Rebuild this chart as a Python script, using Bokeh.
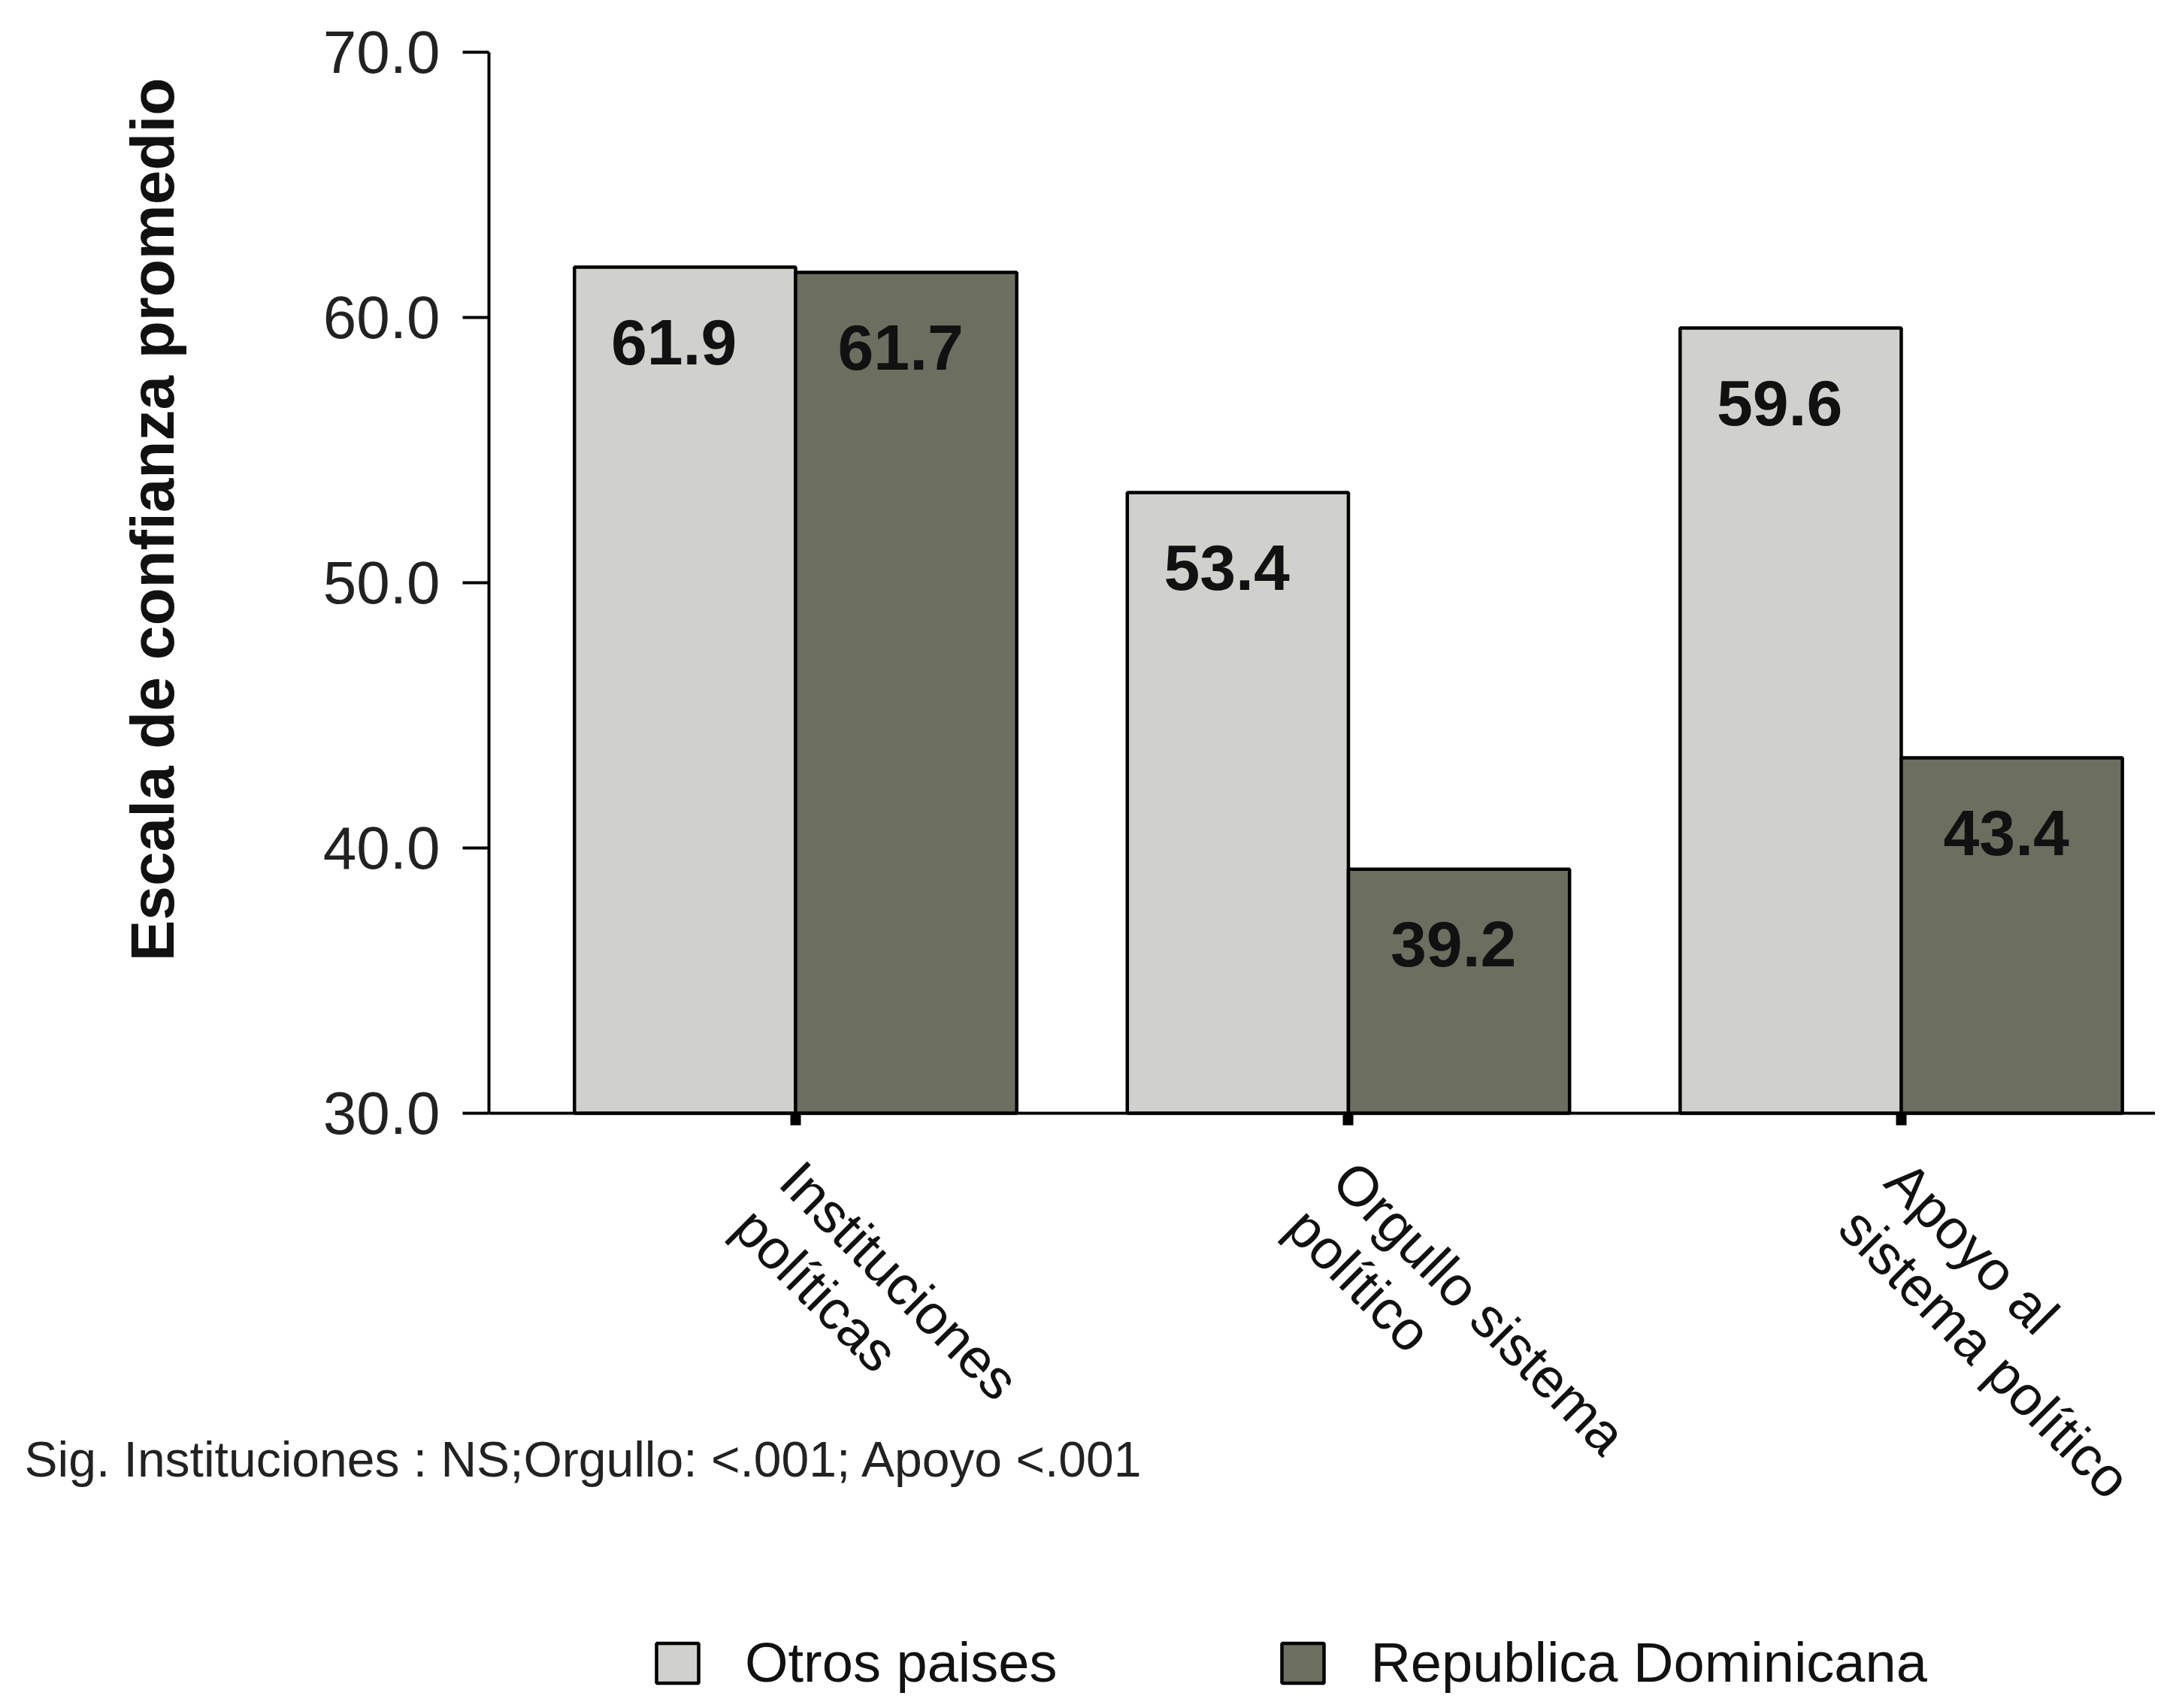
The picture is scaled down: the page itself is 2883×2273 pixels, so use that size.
import math
from bokeh.plotting import figure
from bokeh.models import (ColumnDataSource, FixedTicker, Legend, LegendItem, Label,
                          Range1d)
from bokeh.transform import dodge
from bokeh.core.properties import value
from bokeh.embed import file_html
from bokeh.resources import INLINE

# ---- data ----
categories = ["Instituciones\npolíticas", "Orgullo sistema\npolítico", "Apoyo al\nsistema político"]
otros_paises = [61.9, 53.4, 59.6]
republica_dominicana = [61.7, 39.2, 43.4]
series_names = ["Otros paises", "Republica Dominicana"]
y_ticks = [30, 40, 50, 60, 70]
y_tick_labels = ["30.0", "40.0", "50.0", "60.0", "70.0"]
footnote = "Sig. Instituciones : NS;Orgullo: <.001; Apoyo <.001"
y_title = "Escala de confianza promedio"

FONT = "Liberation Sans"
LIGHT = "#d0d0cc"
DARK = "#6c6e60"

idx = list(range(len(categories)))
src = ColumnDataSource(dict(
    x=idx,
    otros=otros_paises,
    rd=republica_dominicana,
    otros_lbl=[f"{v:.1f}" for v in otros_paises],
    rd_lbl=[f"{v:.1f}" for v in republica_dominicana],
))

Y_MIN, Y_MAX = 30, 70
X_AXIS_POS = -0.5547
X_START, X_END = -1.4384, 2.4596

cat_src = ColumnDataSource(dict(x=idx, y=[Y_MIN] * len(idx), label=categories))

p = figure(width=2867, height=2257, output_backend="svg", toolbar_location=None,
           x_range=Range1d(X_START, X_END), y_range=Range1d(8.015, 71.955),
           min_border_left=0, min_border_top=0, min_border_right=0,
           min_border_bottom=0)
p.outline_line_color = None
p.grid.visible = False
p.background_fill_color = "white"

r1 = p.vbar(x=dodge("x", -0.2, range=p.x_range), top="otros", bottom=Y_MIN, width=0.4,
            source=src, fill_color=LIGHT, line_color="black", line_width=4.5)
r2 = p.vbar(x=dodge("x", 0.2, range=p.x_range), top="rd", bottom=Y_MIN, width=0.4,
            source=src, fill_color=DARK, line_color="black", line_width=4.5)

p.text(x=dodge("x", -0.22, range=p.x_range), y="otros", text="otros_lbl", source=src,
       text_font=value(FONT), text_font_style="bold", text_font_size="86px",
       text_align="center", text_baseline="middle", y_offset=100, text_color="#111111")
p.text(x=dodge("x", 0.19, range=p.x_range), y="rd", text="rd_lbl", source=src,
       text_font=value(FONT), text_font_style="bold", text_font_size="86px",
       text_align="center", text_baseline="middle", y_offset=100, text_color="#111111")

# y axis
ya = p.yaxis[0]
ya.fixed_location = X_AXIS_POS
ya.bounds = (Y_MIN, Y_MAX)
ya.ticker = FixedTicker(ticks=y_ticks)
ya.major_label_overrides = {t: l for t, l in zip(y_ticks, y_tick_labels)}
ya.minor_tick_line_color = None
ya.major_tick_in = 0
ya.major_tick_out = 35
ya.major_tick_line_width = 4
ya.axis_line_width = 4
ya.major_label_text_font = FONT
ya.major_label_text_font_size = "80px"
ya.major_label_text_color = "#222222"
ya.major_label_standoff = 30

# x axis (ticks and line; category names drawn rotated below)
xa = p.xaxis[0]
xa.fixed_location = Y_MIN
xa.bounds = (X_AXIS_POS, X_END)
xa.ticker = FixedTicker(ticks=idx)
xa.major_label_overrides = {i: "" for i in idx}
xa.minor_tick_line_color = None
xa.major_tick_in = 0
xa.major_tick_out = 16
xa.major_tick_line_width = 14
xa.axis_line_width = 4

p.text(x="x", y="y", text="label", source=cat_src, angle=-math.pi / 4,
       text_align="left", text_baseline="top", x_offset=22, y_offset=48,
       text_font=value(FONT), text_font_size="74px", text_line_height=1.05,
       text_color="#111111")

# y axis title
p.add_layout(Label(x=202, y=1566, x_units="screen", y_units="screen", text=y_title,
                   angle=math.pi / 2, text_font=FONT, text_font_style="bold",
                   text_font_size="82px", text_align="center", text_baseline="middle",
                   text_color="#111111"))

# footnote
p.add_layout(Label(x=32, y=316, x_units="screen", y_units="screen", text=footnote,
                   text_font=FONT, text_font_size="66px", text_baseline="middle",
                   text_color="#222222"))

legend = Legend(items=[LegendItem(label=series_names[0], renderers=[r1]),
                       LegendItem(label=series_names[1], renderers=[r2])],
                location=(866, 2), orientation="horizontal",
                glyph_width=70, glyph_height=66, label_height=66,
                label_standoff=55, spacing=292, padding=0, margin=0,
                border_line_color=None, background_fill_alpha=0,
                label_text_font=FONT, label_text_font_size="74px",
                label_text_color="#111111", label_text_baseline="middle")
p.add_layout(legend, "center")

open("out.html", "w").write(file_html(p, INLINE))
